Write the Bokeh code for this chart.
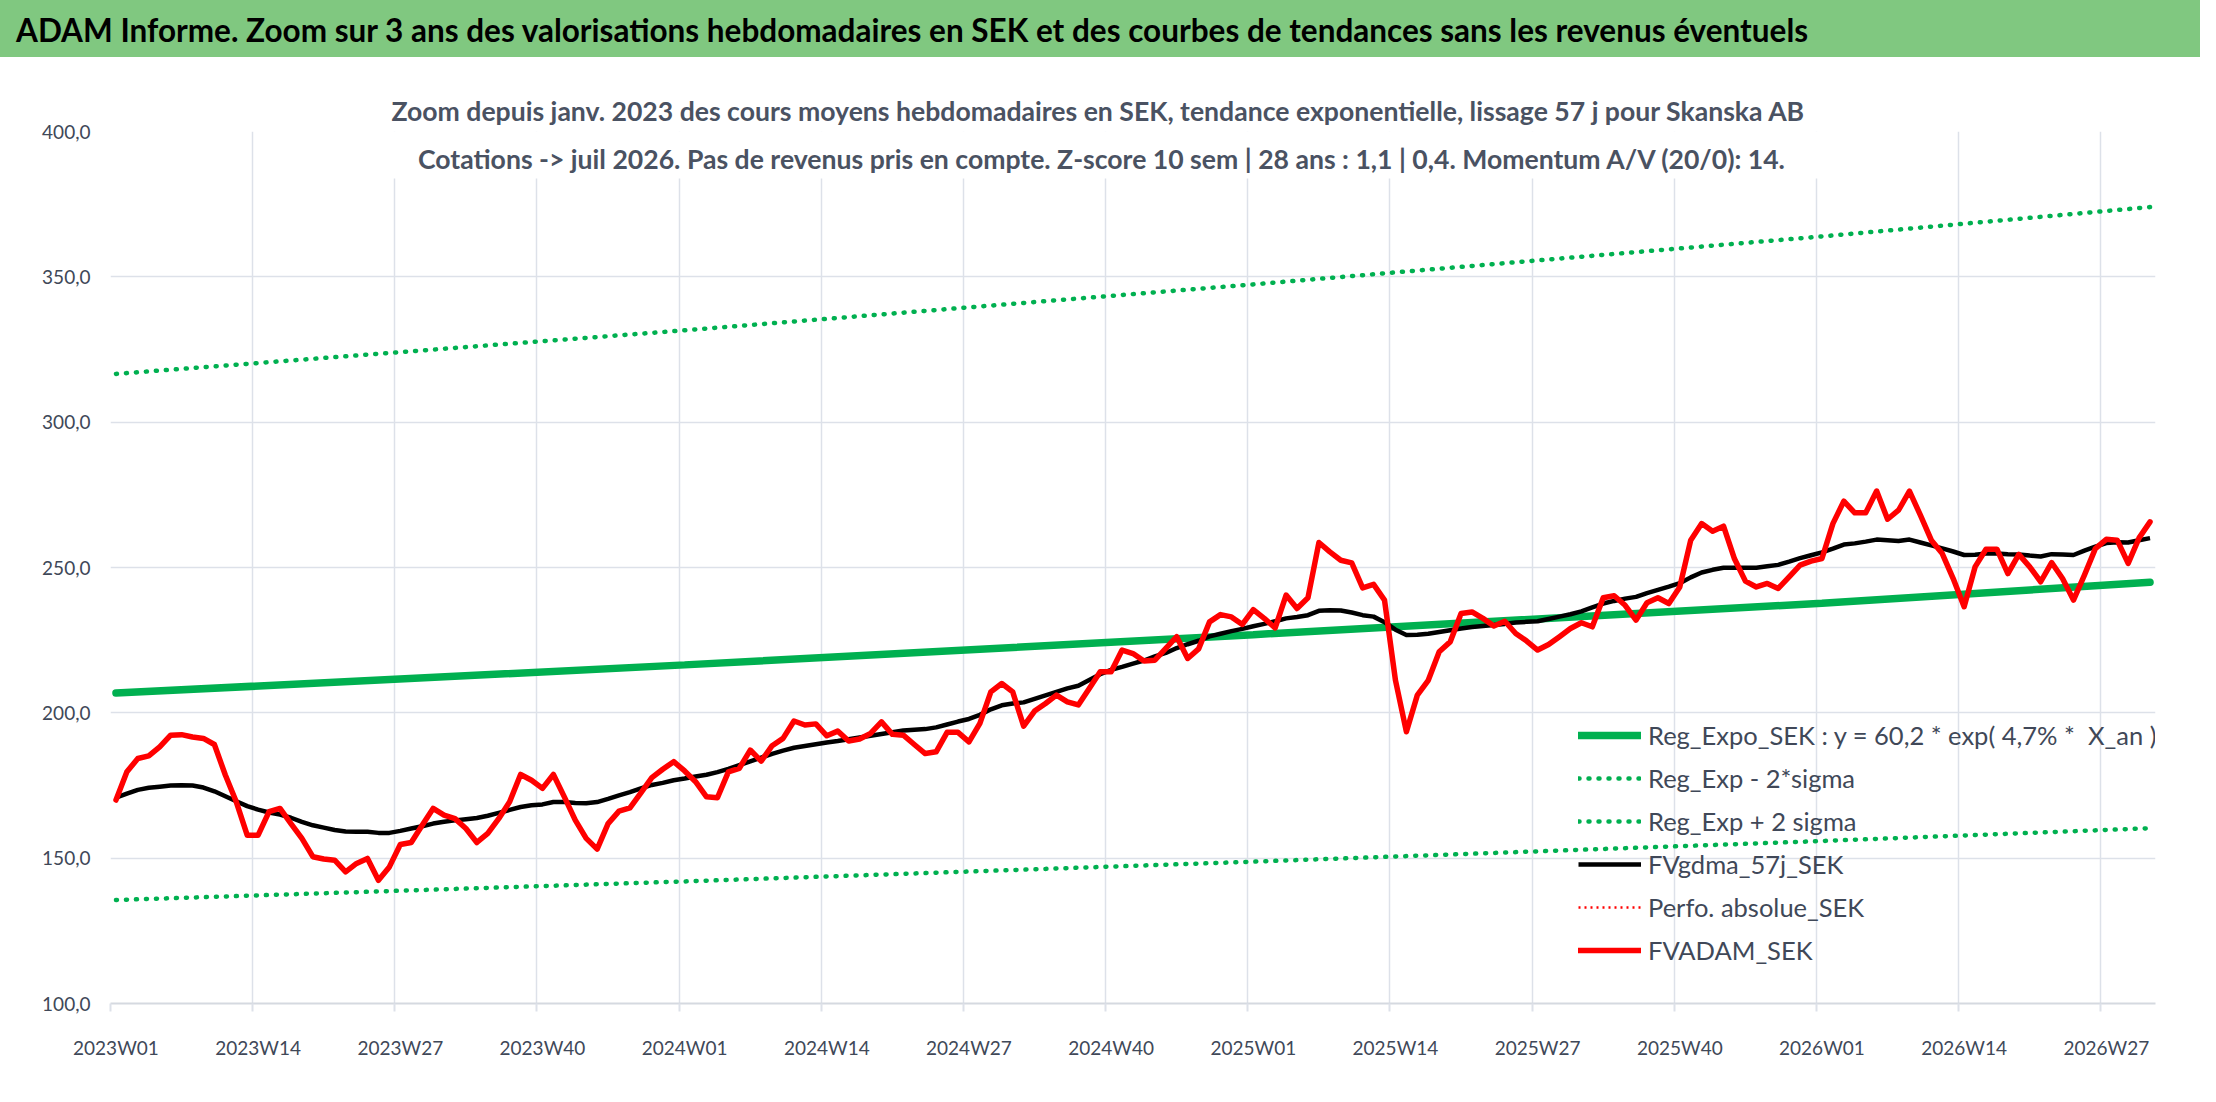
from bokeh.plotting import figure
from bokeh.models import (FixedTicker, Legend, LegendItem, Label, BoxAnnotation,
                          Range1d, Title, Div)
from bokeh.layouts import column
from bokeh.embed import file_html
from bokeh.resources import INLINE

# weekly values, 2023W01 .. 2026W31 (187 weeks)
fvadam_sek = [
    170.0, 179.7, 184.3, 185.2, 188.3, 192.3, 192.5, 191.7, 191.2, 189.1,
    178.6, 169.4, 157.9, 157.9, 166.0, 167.1, 161.9, 156.8, 150.5, 149.7,
    149.3, 145.3, 148.2, 149.9, 142.4, 147.0, 154.7, 155.4, 161.3, 167.1,
    164.8, 163.6, 160.2, 155.4, 158.5, 163.6, 169.4, 178.8, 176.8, 174.0,
    178.8, 171.1, 163.1, 156.8, 153.1, 161.9, 166.2, 167.3, 172.5, 177.7,
    180.6, 183.2, 180.0, 176.3, 171.1, 170.8, 179.7, 180.9, 187.2, 183.4,
    188.7, 191.2, 197.2, 195.8, 196.2, 192.1, 193.7, 190.3, 191.0, 192.9,
    196.9, 192.6, 192.3, 189.1, 186.0, 186.6, 193.3, 193.3, 190.0, 196.4,
    207.2, 210.1, 207.2, 195.4, 200.6, 203.2, 206.1, 203.8, 202.7, 208.4,
    214.1, 214.1, 221.6, 220.4, 217.8, 218.1, 222.2, 226.2, 218.7, 222.0,
    231.3, 233.8, 233.0, 230.4, 235.5, 232.5, 229.2, 240.5, 235.9, 239.6,
    258.6, 255.4, 252.5, 251.6, 243.0, 244.2, 238.8, 211.2, 193.5, 206.1,
    211.2, 221.0, 224.4, 234.2, 234.7, 232.5, 229.9, 231.5, 227.3, 224.7,
    221.6, 223.5, 226.2, 229.0, 231.0, 229.6, 239.6, 240.3, 237.0, 231.9,
    237.9, 239.6, 237.6, 243.3, 259.4, 265.1, 262.5, 264.2, 253.0, 245.3,
    243.3, 244.5, 242.8, 246.8, 250.8, 252.2, 253.1, 265.1, 272.8, 268.8,
    268.8, 276.3, 266.6, 269.7, 276.3, 268.0, 259.4, 254.8, 246.2, 236.5,
    250.2, 256.3, 256.3, 247.9, 254.5, 250.2, 245.1, 251.7, 246.2, 238.8,
    247.4, 256.5, 259.7, 259.4, 251.4, 260.2, 265.7,
]

fvgdma_57j_sek = [
    170.8, 172.2, 173.5, 174.2, 174.6, 175.0, 175.1, 175.0, 174.3, 173.0,
    171.3, 169.6, 167.9, 166.7, 165.7, 165.0, 163.9, 162.5, 161.3, 160.5,
    159.7, 159.2, 159.1, 159.1, 158.7, 158.7, 159.4, 160.2, 161.0, 161.9,
    162.5, 163.0, 163.4, 163.8, 164.6, 165.6, 166.6, 167.6, 168.2, 168.5,
    169.3, 169.3, 169.0, 168.9, 169.3, 170.4, 171.6, 172.7, 174.0, 175.2,
    175.9, 176.8, 177.4, 178.1, 178.7, 179.6, 180.7, 182.0, 183.3, 184.6,
    185.9, 187.0, 188.0, 188.6, 189.2, 189.8, 190.3, 190.9, 191.5, 192.1,
    192.7, 193.3, 193.9, 194.2, 194.4, 195.0, 196.0, 197.0, 197.9, 199.3,
    201.2, 202.6, 203.2, 203.6, 204.8, 206.0, 207.2, 208.4, 209.3, 211.3,
    213.3, 214.8, 215.8, 216.9, 218.0, 219.4, 220.6, 222.3, 223.6, 224.8,
    226.3, 227.2, 228.1, 228.9, 229.8, 230.6, 231.5, 232.5, 233.0, 233.6,
    235.1, 235.3, 235.2, 234.5, 233.6, 233.1, 231.2, 228.6, 226.8, 226.9,
    227.2, 227.8, 228.4, 229.0, 229.5, 229.9, 230.2, 230.6, 231.1, 231.3,
    231.5, 232.3, 233.1, 233.9, 234.9, 236.3, 237.6, 238.5, 239.3, 239.9,
    241.2, 242.3, 243.4, 244.6, 246.6, 248.3, 249.2, 249.9, 249.9, 249.9,
    249.9, 250.4, 250.9, 252.0, 253.2, 254.2, 255.2, 256.5, 257.9, 258.3,
    258.9, 259.6, 259.4, 259.1, 259.6, 258.6, 257.6, 256.6, 255.5, 254.3,
    254.4, 254.8, 254.8, 254.6, 254.5, 254.1, 253.8, 254.6, 254.5, 254.3,
    255.8, 257.2, 258.4, 258.7, 258.6, 259.4, 260.1,
]

# Perfo. absolue_SEK stays off the visible scale
perfo_absolue_sek = [float("nan"), float("nan")]
perfo_weeks = [0, 186]

# trend lines read at the year starts and at the last week
trend_weeks = [0, 52, 104, 156, 186]
reg_expo_sek = [206.8, 216.5, 226.9, 237.7, 244.9]
reg_minus_2sigma = [135.6, 142.0, 148.8, 155.9, 160.3]
reg_plus_2sigma = [316.6, 331.6, 347.4, 363.9, 374.0]

tick_weeks = [0, 13, 26, 39, 52, 65, 78, 91, 104, 117, 130, 143, 156, 169, 182]
tick_labels = ["2023W01", "2023W14", "2023W27", "2023W40",
               "2024W01", "2024W14", "2024W27", "2024W40",
               "2025W01", "2025W14", "2025W27", "2025W40",
               "2026W01", "2026W14", "2026W27"]
y_ticks = [100, 150, 200, 250, 300, 350, 400]

title_text = ("ADAM Informe. Zoom sur 3 ans des valorisations hebdomadaires en SEK "
              "et des courbes de tendances sans les revenus éventuels")
sub1 = ("Zoom depuis janv. 2023 des cours moyens hebdomadaires en SEK, "
        "tendance exponentielle, lissage 57 j pour Skanska AB")
sub2 = ("Cotations -> juil 2026. Pas de revenus pris en compte. "
        "Z-score 10 sem | 28 ans : 1,1 | 0,4. Momentum A/V (20/0): 14.")

FONT = "Lato"
TXT = "#404858"
SUBTXT = "#4a5262"
GRID = "#dde1e9"
GREEN = "#00b050"

# ---- green title bar
head = Div(text=title_text, width=2200, height=57, margin=0,
           styles={"background-color": "#80c880", "font-family": FONT,
                   "font-weight": "bold", "font-size": "31.5px", "color": "black",
                   "line-height": "60px", "padding-left": "16px",
                   "white-space": "nowrap", "box-sizing": "border-box",
                   "height": "57px", "overflow": "hidden"})

# ---- main chart
x = [w + 0.5 for w in range(len(fvadam_sek))]
xt = [w + 0.5 for w in trend_weeks]
xp = [w + 0.5 for w in perfo_weeks]

p = figure(width=2200, height=1029, x_range=Range1d(0, 187), y_range=Range1d(100, 400),
           toolbar_location=None, output_backend="svg",
           min_border_left=110, min_border_right=45, min_border_top=74,
           min_border_bottom=83, outline_line_color=None)

p.add_layout(Title(text=sub1, align="left", offset=281, standoff=9,
                   text_font=FONT, text_font_style="bold", text_font_size="26.6px",
                   text_color=SUBTXT), "above")

p.xaxis.ticker = FixedTicker(ticks=[t + 0.5 for t in tick_weeks], minor_ticks=tick_weeks)
p.xaxis.major_label_overrides = {t + 0.5: lab for t, lab in zip(tick_weeks, tick_labels)}
p.xaxis.major_tick_out = 0
p.xaxis.major_tick_in = 0
p.xaxis.minor_tick_out = 8
p.xaxis.minor_tick_in = 0
p.xaxis.minor_tick_line_color = GRID
p.xaxis.minor_tick_line_width = 2
p.xaxis.axis_line_color = "#d5d9e0"
p.xaxis.axis_line_width = 2
p.xaxis.major_label_standoff = 24

p.yaxis.ticker = FixedTicker(ticks=y_ticks)
p.yaxis.major_label_overrides = {v: f"{v},0" for v in y_ticks}
p.yaxis.major_tick_out = 0
p.yaxis.major_tick_in = 0
p.yaxis.minor_tick_line_color = None
p.yaxis.axis_line_color = None
p.yaxis.major_label_standoff = 20

for ax in (p.xaxis, p.yaxis):
    ax.major_label_text_font = FONT
    ax.major_label_text_font_size = "19px"
    ax.major_label_text_color = TXT

p.xgrid.ticker = FixedTicker(ticks=tick_weeks)
p.grid.grid_line_color = GRID
p.grid.grid_line_width = 1.5

r_reg = p.line(xt, reg_expo_sek, line_color=GREEN, line_width=7.5, line_cap="round")
r_lo = p.line(xt, reg_minus_2sigma, line_color=GREEN, line_width=4.5,
              line_dash="1 9", line_cap="round")
r_hi = p.line(xt, reg_plus_2sigma, line_color=GREEN, line_width=4.5,
              line_dash="1 9", line_cap="round")
r_gdma = p.line(x, fvgdma_57j_sek, line_color="black", line_width=4.5, line_join="round")
r_perf = p.line(xp, perfo_absolue_sek, line_color="#ff0000", line_width=2.5,
                line_dash="2 4")
r_adam = p.line(x, fvadam_sek, line_color="#ff0000", line_width=5.5,
                line_join="round", line_cap="round")

# white box behind the second subtitle line
p.add_layout(BoxAnnotation(left=25.0, right=156.4, bottom=383.8, top=410,
                           fill_color="white", fill_alpha=1, line_alpha=0))
p.add_layout(Label(x=90.7, y=390.6, text=sub2, text_align="center",
                   text_baseline="middle", text_font=FONT, text_font_style="bold",
                   text_font_size="26.6px", text_color=SUBTXT))

legend = Legend(items=[
    LegendItem(label="Reg_Expo_SEK : y = 60,2 * exp( 4,7% *  X_an )", renderers=[r_reg]),
    LegendItem(label="Reg_Exp - 2*sigma", renderers=[r_lo]),
    LegendItem(label="Reg_Exp + 2 sigma", renderers=[r_hi]),
    LegendItem(label="FVgdma_57j_SEK", renderers=[r_gdma]),
    LegendItem(label="Perfo. absolue_SEK", renderers=[r_perf]),
    LegendItem(label="FVADAM_SEK", renderers=[r_adam]),
], location=(1468, 38), glyph_width=63, glyph_height=30, label_height=30,
    spacing=13, label_standoff=7, padding=0, margin=0,
    background_fill_alpha=0, border_line_alpha=0,
    label_text_font=FONT, label_text_font_size="25.5px", label_text_color=TXT)
p.add_layout(legend)

page = column(head, p, spacing=0)
open("out.html", "w").write(file_html(page, INLINE))
